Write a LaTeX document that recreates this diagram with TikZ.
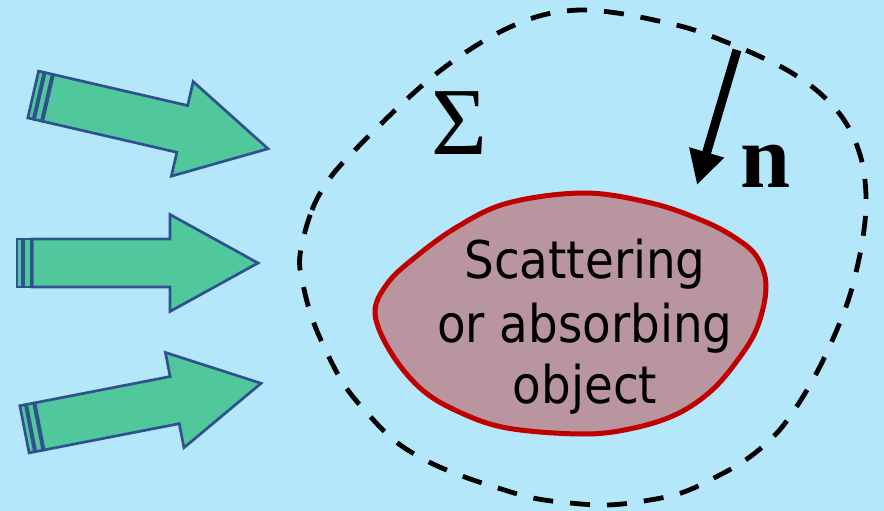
\documentclass[tikz,border=0pt]{standalone}
\usepackage{fontspec}
\usetikzlibrary{arrows.meta}
\newfontfamily\objfont{DejaVu Sans Condensed}
\newfontfamily\symfont{Liberation Serif}
\definecolor{bgblue}{RGB}{180,231,250}
\definecolor{arrgreen}{RGB}{80,200,155}
\definecolor{arrline}{RGB}{47,82,143}
\definecolor{objfill}{RGB}{185,149,159}
\definecolor{objline}{RGB}{192,0,0}
\tikzset{
  arrowpart/.style={fill=arrgreen, draw=arrline, line width=2.7pt},
  striparrow/.pic={
    \path[arrowpart] (0,-24) rectangle (5.5,24);
    \path[arrowpart] (6.8,-24) rectangle (14,24);
    \path[arrowpart] (15.3,-24) -- (153,-24) -- (153,-48.5) -- (241,0)
      -- (153,48.5) -- (153,24) -- (15.3,24) -- cycle;
  },
  surface/.style={draw=black, line width=4.8pt, dash pattern=on 20pt off 17pt},
  objectshape/.style={fill=objfill, draw=objline, line width=5pt},
  objtext/.style={font=\objfont\fontsize{52}{62}\selectfont, anchor=base, inner sep=0pt},
  symtext/.style={font=\symfont\fontsize{96}{110}\selectfont, anchor=base, inner sep=0pt},
  normalarrow/.style={line width=9pt, -{Triangle[length=34pt,width=34pt]}}
}
\begin{document}
\begin{tikzpicture}[x=1pt,y=-1pt]
\fill[bgblue] (0,0) rectangle (884,511);
\useasboundingbox (0,0) rectangle (884,511);

% incident arrows
\pic (a1) [rotate=-13] at (33.2,94.5) {striparrow};
\pic (a2) at (17,263) {striparrow};
\pic (a3) [rotate=11] at (24.5,429.3) {striparrow};

% surface Sigma
\draw[surface] plot[smooth cycle, tension=0.6] coordinates {
 (300,255) (312,210) (330,178) (355,150) (385,120) (417,90) (445,67) (477,45)
 (508,28) (543,15) (580,10) (617,13) (654,20) (691,29) (726,42) (761,57)
 (792,73) (822,95) (846,123) (861,158) (866,195) (864,230) (857,268) (847,304)
 (832,341) (816,374) (797,406) (776,434) (747,459) (714,478) (681,493) (644,501)
 (607,505) (570,503) (533,498) (498,488) (462,476) (427,461) (395,441) (368,414)
 (345,386) (327,353) (312,318) (303,284)};

% object
\draw[objectshape] plot[smooth cycle, tension=0.6] coordinates {
 (375,313) (387,284) (413,259) (457,227) (508,203) (584,193) (651,203) (701,220)
 (734,237) (757,257) (766,287) (757,328) (737,361) (711,391) (677,414) (634,428)
 (584,434) (507,428) (457,411) (420,388) (390,351)};

\node[objtext] (t1) at (585,278) {Scattering};
\node[objtext] (t2) at (585,342) {or absorbing};
\node[objtext] (t3) at (585,403) {object};

% labels
\node[symtext] (sigma) at (459.5,154) {Σ};
\node[symtext, font=\symfont\bfseries\fontsize{90}{100}\selectfont] (nlab) at (766,187) {n};

% normal arrow
\coordinate (nstart) at (737,50);
\coordinate (ntip) at (697,185);
\draw[normalarrow] (nstart) -- (ntip);
\end{tikzpicture}
\end{document}
